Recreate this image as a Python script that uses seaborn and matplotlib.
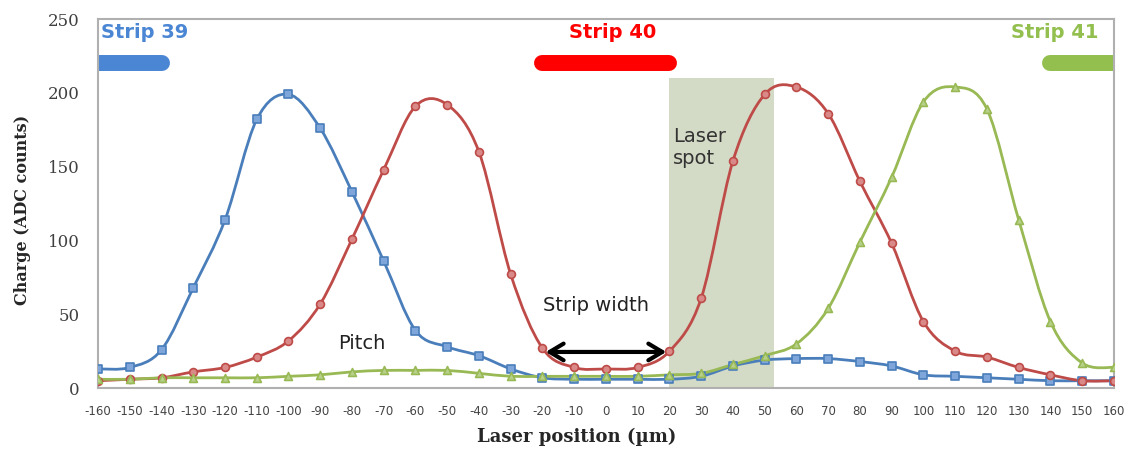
import numpy as np
import pandas as pd
import seaborn as sns
import matplotlib
import matplotlib.pyplot as plt
from matplotlib.path import Path
from matplotlib.patches import PathPatch

matplotlib.use('Agg')
sns.set_style("white")

# laser position (um) and charge per strip (ADC counts)
positions = list(range(-160, 161, 10))
strip39 = [13, 14, 26, 68, 114, 182, 199, 176, 133, 86, 39, 28, 22, 13, 7, 6, 6, 6, 6, 8,
           15, 19, 20, 20, 18, 15, 9, 8, 7, 6, 5, 5, 5]
strip40 = [5, 6, 7, 11, 14, 21, 32, 57, 101, 148, 191, 192, 160, 77, 27, 14, 13, 14, 25, 61,
           154, 199, 204, 186, 140, 98, 45, 25, 21, 14, 9, 5, 5]
strip41 = [6, 6, 7, 7, 7, 7, 8, 9, 11, 12, 12, 12, 10, 8, 8, 8, 8, 8, 9, 10,
           16, 22, 30, 54, 99, 143, 194, 204, 189, 114, 45, 17, 14]

strip_names = ["Strip 39", "Strip 40", "Strip 41"]
line_colors = ["#4A7EBB", "#BE4B48", "#98B954"]
face_colors = ["#7EA6DA", "#D98A88", "#B7D08A"]
label_colors = ["#4A86D4", "#FF0000", "#92BF4E"]
marker_shapes = ["s", "o", "^"]

# strip extents (bars at top) and laser spot region
strip_spans = [(-175, -140), (-20, 20), (140, 175)]
laser_spot = (20, 53)

df = pd.DataFrame({
    "pos": positions * 3,
    "charge": strip39 + strip40 + strip41,
    "strip": np.repeat(strip_names, len(positions)),
})

fig, ax = plt.subplots(figsize=(11.33, 4.55), dpi=100)
fig.subplots_adjust(left=0.0865, right=0.9832, bottom=0.147, top=0.958)

ax.axvspan(*laser_spot, ymin=0, ymax=210 / 250, color="#D3DAC5", zorder=0, lw=0)


def smooth_path(xs, ys):
    # Catmull-Rom curve written as cubic Bezier segments (like Excel's smoothed line)
    pts = np.column_stack([xs, ys]).astype(float)
    pad = np.vstack([pts[0], pts, pts[-1]])
    verts = [pts[0]]
    codes = [Path.MOVETO]
    for i in range(1, len(pad) - 2):
        p0, p1, p2, p3 = pad[i - 1], pad[i], pad[i + 1], pad[i + 2]
        verts += [p1 + (p2 - p0) / 6, p2 - (p3 - p1) / 6, p2]
        codes += [Path.CURVE4] * 3
    return Path(verts, codes)


for name, lc in zip(strip_names, line_colors):
    sub = df[df.strip == name]
    ax.add_patch(PathPatch(smooth_path(sub.pos, sub.charge), fc="none", ec=lc, lw=2, zorder=2))

for name, lc, fc, mk in zip(strip_names, line_colors, face_colors, marker_shapes):
    sub = df[df.strip == name]
    sns.scatterplot(data=sub, x="pos", y="charge", marker=mk, s=32, color=fc,
                    edgecolor=lc, linewidth=1.2, zorder=3, ax=ax, legend=False)

# strip bars and labels
for (x0, x1), col in zip(strip_spans, label_colors):
    ax.plot([x0, x1], [220, 220], color=col, lw=11.5, solid_capstyle="round", zorder=2)
ax.text(-159, 241, "Strip 39", color=label_colors[0], fontsize=14, fontweight="bold",
        ha="left", va="center", family="DejaVu Sans")
ax.text(2, 241, "Strip 40", color=label_colors[1], fontsize=14, fontweight="bold",
        ha="center", va="center", family="DejaVu Sans")
ax.text(155, 241, "Strip 41", color=label_colors[2], fontsize=14, fontweight="bold",
        ha="right", va="center", family="DejaVu Sans")

ax.text(21, 163, "Laser\nspot", fontsize=14, color="#333333", ha="left", va="center",
        linespacing=1.2, family="DejaVu Sans")
ax.text(-3, 56, "Strip width", fontsize=14, color="#222222", ha="center", va="center",
        family="DejaVu Sans")
ax.text(-77, 30, "Pitch", fontsize=14, color="#222222", ha="center", va="center",
        family="DejaVu Sans")
ax.annotate("", xy=(19, 24.5), xytext=(-19, 24.5),
            arrowprops=dict(arrowstyle="<->,head_length=1.0,head_width=0.6", lw=3,
                            color="black", shrinkA=0, shrinkB=0), zorder=4)

ax.set_xlim(-160, 160)
ax.set_ylim(0, 250)
ax.set_xticks(positions)
ax.set_xticklabels([str(p) for p in positions], fontsize=8.5, color="#444444",
                   family="DejaVu Sans")
ax.set_yticks(range(0, 251, 50))
ax.set_yticklabels([str(v) for v in range(0, 251, 50)], fontsize=12, color="#404040",
                   family="DejaVu Serif")
ax.tick_params(axis="both", direction="out", length=4, width=1, color="#999999")
ax.tick_params(axis="x", pad=8)
ax.tick_params(axis="y", pad=9)
for side in ["left", "bottom", "top", "right"]:
    ax.spines[side].set_color("#B0B0B0")
    ax.spines[side].set_linewidth(1.5)

ax.set_xlabel("Laser position (\u00b5m)", fontsize=13, fontweight="bold",
              family="DejaVu Serif")
ax.set_ylabel("Charge (ADC counts)", fontsize=11.5, fontweight="bold",
              family="DejaVu Serif")
ax.xaxis.set_label_coords(0.471, -0.108)
ax.yaxis.set_label_coords(-0.066, 0.482)

plt.savefig("out.png", dpi=100)
plt.close()
